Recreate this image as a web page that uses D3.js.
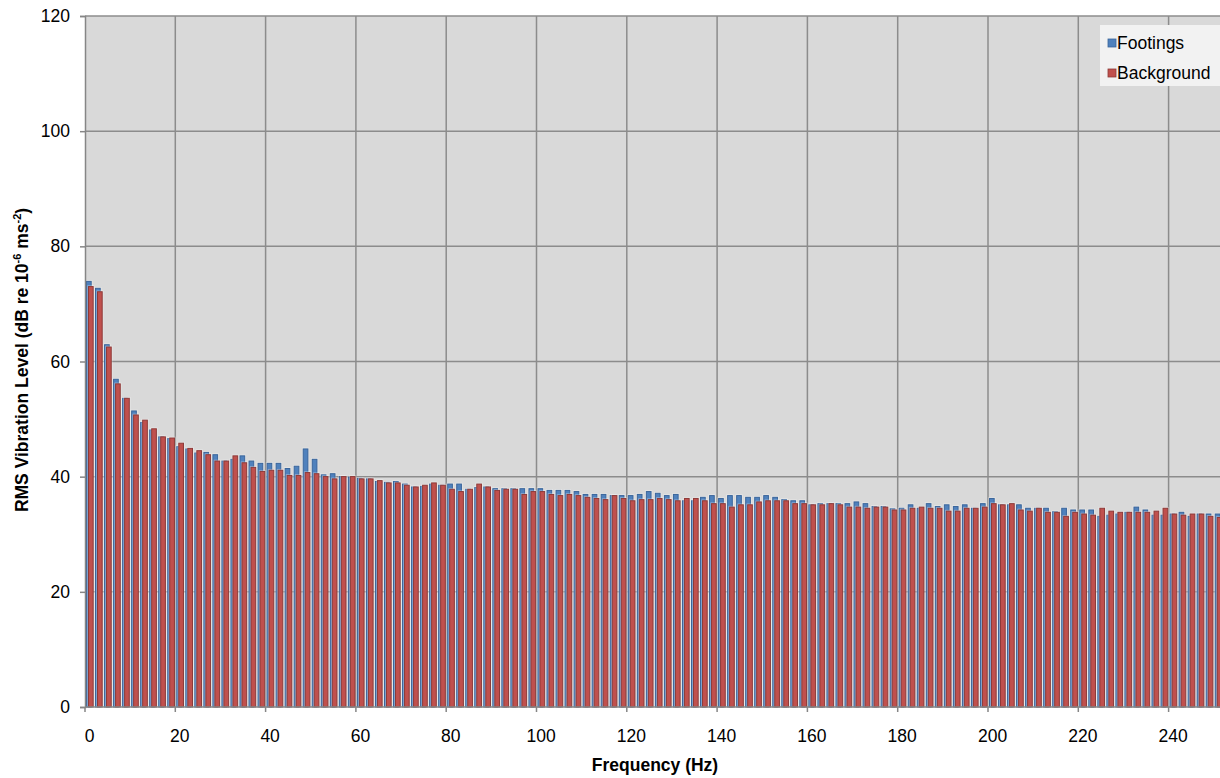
<!DOCTYPE html>
<html><head><meta charset="utf-8">
<script src="https://cdn.jsdelivr.net/npm/d3@7"></script>
<style>
html,body{margin:0;padding:0;background:#fff;}
svg{display:block;font-family:"Liberation Sans",Arial,sans-serif;}
</style></head>
<body>
<svg id="chart" width="1220" height="778"></svg>
<script>
// Frequencies (Hz), category axis: 0,2,...,250
const frequencies = d3.range(0, 252, 2);
const footings = [
74.0,72.8,63.0,57.0,53.7,51.5,49.5,48.2,47.0,46.7,
45.3,44.9,44.2,44.3,43.9,42.8,43.1,43.7,42.8,42.4,
42.4,42.4,41.5,41.9,44.9,43.1,40.4,40.6,40.1,40.0,
39.8,39.7,39.25,39.1,39.25,38.8,38.3,38.4,38.8,38.6,
38.8,38.8,37.9,38.2,38.3,38.0,38.0,38.0,38.0,38.0,
38.0,37.7,37.7,37.7,37.5,37.0,37.0,37.0,36.8,36.8,
36.8,37.0,37.5,37.2,36.8,37.0,35.9,35.9,36.5,36.8,
36.3,36.8,36.8,36.5,36.5,36.8,36.5,36.1,35.9,35.9,
35.2,35.4,35.4,35.4,35.4,35.7,35.4,34.9,34.9,34.5,
34.6,35.2,34.6,35.4,34.9,35.2,34.9,35.2,34.6,35.4,
36.3,35.2,35.2,35.2,34.6,34.6,34.6,34.0,34.6,34.3,
34.3,34.3,33.2,33.4,33.6,33.9,34.8,34.3,33.4,33.4,
33.6,33.9,33.2,33.6,33.6,33.6
];
const background = [
73.1,72.2,62.6,56.2,53.7,50.8,49.9,48.4,47.0,46.8,
45.9,45.0,44.6,43.9,42.8,42.8,43.7,42.5,41.7,41.0,
41.2,41.2,40.3,40.3,40.8,40.6,40.1,39.7,40.1,40.1,
39.7,39.7,39.4,39.0,39.0,38.6,38.3,38.6,39.0,38.6,
37.9,37.5,37.9,38.8,38.3,37.7,37.9,37.9,37.0,37.5,
37.5,37.0,36.8,37.0,36.8,36.5,36.3,36.1,36.8,36.3,
35.9,36.1,36.1,36.3,36.1,35.9,36.3,36.3,35.9,35.4,
35.4,34.8,35.2,35.2,35.7,35.9,35.9,35.9,35.4,35.4,
35.2,35.2,35.4,35.2,34.8,34.8,34.6,34.8,34.8,34.3,
34.3,34.6,34.8,34.6,34.6,34.1,34.1,34.6,34.6,34.8,
35.4,35.2,35.4,34.3,34.1,34.6,33.9,33.9,33.2,33.9,
33.6,33.4,34.6,34.1,33.9,33.9,33.9,33.9,34.1,34.6,
33.6,33.4,33.6,33.6,33.2,33.0
];
const yTicks = [0,20,40,60,80,100,120];
const xLabelFreqs = [0,20,40,60,80,100,120,140,160,180,200,220,240];
const seriesNames = ["Footings","Background"];
const seriesColors = ["#4f81bd","#c0504d"];
const seriesStrokes = ["#3a659b","#8e3a38"];

const FS = 17.5;
const svg = d3.select("#chart");
const mLeft = 85, mTop = 16, mBottom = 707;
const catW = 9.03;
const mRight = mLeft + catW * frequencies.length;

const x = d3.scaleBand().domain(frequencies).range([mLeft, mRight]).padding(0);
const y = d3.scaleLinear().domain([0,120]).range([mBottom, mTop]);
const bw = x.bandwidth();

// plot background
svg.append("rect").attr("x", mLeft).attr("y", mTop).attr("width", mRight-mLeft).attr("height", mBottom-mTop).attr("fill", "#d9d9d9");

// horizontal gridlines
svg.append("g").selectAll("line").data(yTicks.filter(d=>d>0)).join("line")
  .attr("x1", mLeft).attr("x2", mRight).attr("y1", d=>y(d)).attr("y2", d=>y(d))
  .attr("stroke", "#8c8c8c").attr("stroke-width", 1.5);
// vertical gridlines at category boundaries
svg.append("g").selectAll("line").data(xLabelFreqs.filter(d=>d>0)).join("line")
  .attr("x1", d=>x(d)).attr("x2", d=>x(d)).attr("y1", mTop).attr("y2", mBottom)
  .attr("stroke", "#8c8c8c").attr("stroke-width", 1.5);

// bars
const data = frequencies.map((f,i)=>({f, v:[footings[i], background[i]]}));
const offs = [0.11, 0.33], wFrac = 0.63;
[0,1].forEach(s=>{
  const g = svg.append("g");
  g.selectAll("rect.glow").data(data).join("rect").attr("class","glow")
    .attr("x", d=>x(d.f)+offs[s]*bw-0.8).attr("y", d=>y(d.v[s])-0.8)
    .attr("width", wFrac*bw+1.6).attr("height", d=>mBottom-y(d.v[s])+0.8)
    .attr("fill", "#ffffff").attr("opacity", 0.35);
  g.selectAll("rect.bar").data(data).join("rect").attr("class","bar")
    .attr("x", d=>x(d.f)+offs[s]*bw+0.5).attr("y", d=>y(d.v[s])+0.5)
    .attr("width", wFrac*bw-1).attr("height", d=>mBottom-y(d.v[s])-0.5)
    .attr("fill", seriesColors[s]).attr("stroke", seriesStrokes[s]).attr("stroke-width", 1);
});

// y axis
const yAxis = svg.append("g").attr("transform", `translate(${mLeft},0)`)
  .call(d3.axisLeft(y).tickValues(yTicks).tickSize(5).tickPadding(10));
yAxis.select(".domain").attr("stroke", "#868686").attr("stroke-width", 1.5);
yAxis.selectAll(".tick line").attr("stroke", "#868686").attr("stroke-width", 1.5);
yAxis.selectAll("text").attr("font-size", FS).attr("fill", "#000").attr("font-family", "Liberation Sans, Arial, sans-serif");

// x axis
svg.append("line").attr("x1", mLeft).attr("x2", mRight).attr("y1", mBottom).attr("y2", mBottom)
  .attr("stroke", "#868686").attr("stroke-width", 1.5);
svg.append("g").selectAll("line").data(xLabelFreqs).join("line")
  .attr("x1", d=>x(d)).attr("x2", d=>x(d)).attr("y1", mBottom).attr("y2", mBottom+5)
  .attr("stroke", "#868686").attr("stroke-width", 1.5);
const xAxis = svg.append("g").attr("transform", `translate(0,${mBottom})`)
  .call(d3.axisBottom(x).tickValues(xLabelFreqs).tickSize(0).tickPadding(0));
xAxis.select(".domain").remove();
xAxis.selectAll("text").attr("font-size", FS).attr("fill", "#000").attr("dy", null)
  .attr("y", 35).attr("font-family", "Liberation Sans, Arial, sans-serif");

// axis titles
svg.append("text").attr("x", 655).attr("y", 771).attr("text-anchor", "middle")
  .attr("font-size", FS).attr("font-weight", "bold").text("Frequency (Hz)");
const yt = svg.append("text").attr("transform", "translate(28,360) rotate(-90)")
  .attr("text-anchor", "middle").attr("font-size", FS).attr("font-weight", "bold");
yt.append("tspan").text("RMS Vibration Level (dB re 10");
yt.append("tspan").attr("font-size", 11).attr("dy", -7).text("-6");
yt.append("tspan").attr("dy", 7).text(" ms");
yt.append("tspan").attr("font-size", 11).attr("dy", -7).text("-2");
yt.append("tspan").attr("dy", 7).text(")");

// legend
const lg = svg.append("g");
lg.append("rect").attr("x", 1100).attr("y", 25).attr("width", 122).attr("height", 61).attr("fill", "#f2f2f2");
seriesNames.forEach((n,i)=>{
  const yy = 43 + i*30;
  lg.append("rect").attr("x", 1108).attr("y", yy-4).attr("width", 8).attr("height", 8)
    .attr("fill", seriesColors[i]).attr("stroke", seriesStrokes[i]).attr("stroke-width", 0.8);
  lg.append("text").attr("x", 1117).attr("y", yy+6).attr("font-size", FS).text(n);
});
</script>
</body></html>
